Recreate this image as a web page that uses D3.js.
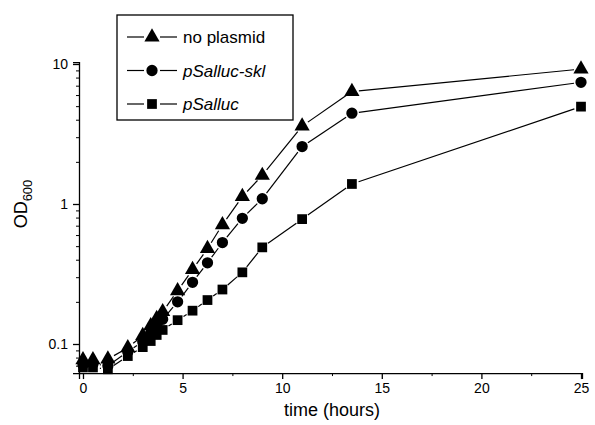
<!DOCTYPE html>
<html>
<head>
<meta charset="utf-8">
<script src="https://cdn.jsdelivr.net/npm/d3@7"></script>
<style>
  body { margin: 0; background: #fff; }
  svg { display: block; font-family: "Liberation Sans", Arial, Helvetica, sans-serif; }
</style>
</head>
<body>
<div id="chart"></div>
<script>
// sample times (hours)
const times = [0, 0.5, 1.25, 2.25, 3, 3.4, 3.7, 4, 4.75, 5.5, 6.25, 7, 8, 9, 11, 13.5, 25];

// OD600 readings
const noPlasmid = [0.077, 0.077, 0.078, 0.094, 0.115, 0.135, 0.152, 0.17, 0.24, 0.34, 0.48, 0.71, 1.13, 1.6, 3.6, 6.35, 9.2];
const pSallucSkl = [0.071, 0.072, 0.07, 0.088, 0.104, 0.12, 0.135, 0.15, 0.2, 0.276, 0.38, 0.53, 0.79, 1.09, 2.57, 4.45, 7.4];
const pSalluc = [0.068, 0.068, 0.066, 0.082, 0.095, 0.105, 0.116, 0.126, 0.148, 0.173, 0.206, 0.245, 0.325, 0.49, 0.78, 1.39, 4.96];

const seriesNames = ["no plasmid", "pSalluc-skl", "pSalluc"];
const xTicks = [0, 5, 10, 15, 20, 25];
const yTicks = [0.1, 1, 10];

const width = 595;
const height = 425;

const svg = d3.select("#chart")
  .append("svg")
  .attr("width", width)
  .attr("height", height);

const x = d3.scaleLinear()
  .domain([-0.2, 25.05])
  .range([79, 582]);

// log axis: 140px per decade, 0.1 sits at y=344
const decade = 140;
const yMin = 0.062, yMax = 10.3;
const y = d3.scaleLog()
  .domain([yMin, yMax])
  .range([344 + decade * (-1 - Math.log10(yMin)), 344 - decade * (Math.log10(yMax) + 1)]);

const axisColor = "#000";

// x axis
const xAxis = svg.append("g")
  .attr("transform", `translate(0,${y.range()[0]})`)
  .call(d3.axisBottom(x).tickValues(xTicks).tickSize(6).tickPadding(4).tickFormat(d3.format("d")));
xAxis.select(".domain").attr("stroke-width", 1.3);
xAxis.selectAll(".tick line").attr("stroke-width", 1.3);
xAxis.selectAll("text").attr("font-size", 14).attr("font-family", "Liberation Sans, Arial, sans-serif").attr("fill", axisColor);

svg.append("g")
  .attr("transform", `translate(0,${y.range()[0]})`)
  .call(d3.axisBottom(x).tickValues([2.5, 7.5, 12.5, 17.5, 22.5]).tickSize(3).tickFormat(""))
  .call(g => g.select(".domain").remove());

// y axis
const yAxis = svg.append("g")
  .attr("transform", `translate(${x.range()[0]},0)`)
  .call(d3.axisLeft(y).tickValues(yTicks).tickSize(6).tickPadding(5).tickFormat(d => d < 1 ? "0.1" : String(d)));
yAxis.select(".domain").attr("stroke-width", 1.3);
yAxis.selectAll(".tick line").attr("stroke-width", 1.3);
yAxis.selectAll("text").attr("font-size", 14).attr("font-family", "Liberation Sans, Arial, sans-serif").attr("fill", axisColor);

const minorY = [];
[0.01, 0.1, 1].forEach(base => {
  for (let k = 2; k <= 9; k++) {
    const v = base * k;
    if (v >= yMin && v <= yMax) minorY.push(v);
  }
});
svg.append("g")
  .attr("transform", `translate(${x.range()[0]},0)`)
  .call(d3.axisLeft(y).tickValues(minorY).tickSize(3).tickFormat(""))
  .call(g => g.select(".domain").remove());

// axis titles
svg.append("text")
  .attr("x", (x(0) + x(25)) / 2)
  .attr("y", 416)
  .attr("text-anchor", "middle")
  .attr("font-size", 18)
  .text("time (hours)");

const yTitle = svg.append("text")
  .attr("transform", `translate(27,${y(1)}) rotate(-90)`)
  .attr("text-anchor", "middle")
  .attr("font-size", 18);
yTitle.append("tspan").text("OD");
yTitle.append("tspan").attr("font-size", 13).attr("dy", 5).text("600");

// series
const shapes = [d3.symbolTriangle, d3.symbolCircle, d3.symbolSquare];
const sizes = [100, 100, 95];
const allSeries = [noPlasmid, pSallucSkl, pSalluc];

function drawSeries(values, shape, size) {
  const pts = values.map((v, i) => [x(times[i]), y(v)]);
  const gap = 7;
  const g = svg.append("g");
  for (let i = 0; i < pts.length - 1; i++) {
    const [x1, y1] = pts[i];
    const [x2, y2] = pts[i + 1];
    const len = Math.hypot(x2 - x1, y2 - y1);
    if (len <= 2 * gap + 1) continue;
    const ux = (x2 - x1) / len, uy = (y2 - y1) / len;
    g.append("line")
      .attr("x1", x1 + ux * gap).attr("y1", y1 + uy * gap)
      .attr("x2", x2 - ux * gap).attr("y2", y2 - uy * gap)
      .attr("stroke", "#000")
      .attr("stroke-width", 1.2);
  }
  g.selectAll("path.pt")
    .data(pts)
    .join("path")
    .attr("class", "pt")
    .attr("transform", d => `translate(${d[0]},${d[1]})`)
    .attr("d", d3.symbol().type(shape).size(size))
    .attr("fill", "#000");
}

allSeries.forEach((s, i) => drawSeries(s, shapes[i], sizes[i]));

// legend
const legend = svg.append("g");
legend.append("rect")
  .attr("x", 117).attr("y", 15)
  .attr("width", 176).attr("height", 105)
  .attr("fill", "#fff")
  .attr("stroke", "#000")
  .attr("stroke-width", 1.3);

seriesNames.forEach((name, i) => {
  const ly = 37 + i * 33.5;
  const row = legend.append("g");
  row.append("line").attr("x1", 127).attr("x2", 144).attr("y1", ly).attr("y2", ly).attr("stroke", "#000").attr("stroke-width", 1.2);
  row.append("line").attr("x1", 160).attr("x2", 177).attr("y1", ly).attr("y2", ly).attr("stroke", "#000").attr("stroke-width", 1.2);
  row.append("path")
    .attr("transform", `translate(152,${ly})`)
    .attr("d", d3.symbol().type(shapes[i]).size(sizes[i]))
    .attr("fill", "#000");
  row.append("text")
    .attr("x", 183).attr("y", ly + 6)
    .attr("font-size", 17)
    .attr("font-style", i === 0 ? "normal" : "italic")
    .text(name);
});
</script>
</body>
</html>
